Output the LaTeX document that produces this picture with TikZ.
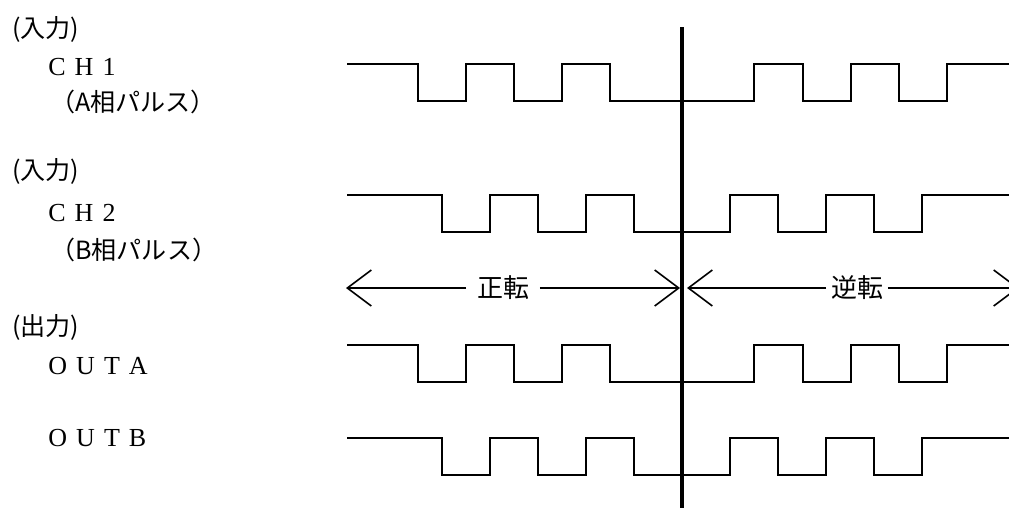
\documentclass[tikz,border=0pt]{standalone}
\usepackage{fontspec}
\setmainfont{Liberation Serif}
\newfontfamily\jp{Noto Sans CJK JP}
\usetikzlibrary{arrows.meta}
\begin{document}
\begin{tikzpicture}[x=0.75pt,y=-0.75pt,
  wave/.style={line width=1.5pt, line join=miter},
  axisline/.style={line width=2.4pt},
  dimline/.style={line width=1.2pt, -{Straight Barb[length=18pt,width=27pt,line width=1.2pt]}},
  jlab/.style={anchor=west, inner sep=0pt, font=\jp\fontsize{18.8pt}{22pt}\selectfont},
  slab/.style={anchor=west, inner sep=0pt, font=\fontsize{19.5pt}{22pt}\selectfont},
  dirlab/.style={inner ysep=0pt, font=\jp\fontsize{19.5pt}{22pt}\selectfont}]
\useasboundingbox (0,0) rectangle (1009,507);
\clip (0,0) rectangle (1009,507);

% left labels
\node[jlab] (in1) at (12,29) {(入力)};
\node[slab] (ch1) at (48,67) {C\kern.35em H\kern.35em 1};
\node[jlab] (pa) at (50,102) {（A相パルス）};
\node[jlab] (in2) at (12,171) {(入力)};
\node[slab] (ch2) at (48,213) {C\kern.35em H\kern.35em 2};
\node[jlab] (pb) at (50,250) {（B相パルス）};
\node[jlab] (out) at (12,327) {(出力)};
\node[slab] (outa) at (48,366) {O\kern.35em U\kern.35em T\kern.35em A};
\node[slab] (outb) at (48,438) {O\kern.35em U\kern.35em T\kern.35em B};

% waveforms
\draw[wave] (347,64) -| (418,101) -| (466,64) -| (514,101) -| (562,64) -| (610,101)
  -| (754,64) -| (803,101) -| (851,64) -| (899,101) -| (947,64) -- (1012,64);
\draw[wave] (347,195) -| (442,232) -| (490,195) -| (538,232) -| (586,195) -| (634,232)
  -| (730,195) -| (778,232) -| (826,195) -| (874,232) -| (922,195) -- (1012,195);
\draw[wave] (347,345) -| (418,382) -| (466,345) -| (514,382) -| (562,345) -| (610,382)
  -| (754,345) -| (803,382) -| (851,345) -| (899,382) -| (947,345) -- (1012,345);
\draw[wave] (347,438) -| (442,475) -| (490,438) -| (538,475) -| (586,438) -| (634,475)
  -| (730,438) -| (778,475) -| (826,438) -| (874,475) -| (922,438) -- (1012,438);

% vertical divider
\coordinate (vtop) at (682,27);
\coordinate (vbot) at (682,510);
\draw[axisline] (vtop) -- (vbot);

% direction arrows
\coordinate (fwdL) at (346,288);
\coordinate (fwdR) at (680,288);
\node[dirlab, inner xsep=7.9pt] (fwd) at (503,288) {正転};
\draw[dimline] (fwd.west) -- (fwdL);
\draw[dimline] (fwd.east) -- (fwdR);
\coordinate (revL) at (687,288);
\coordinate (revR) at (1019,288);
\node[dirlab, inner xsep=3.5pt] (rev) at (857,288) {逆転};
\draw[dimline] (rev.west) -- (revL);
\draw[dimline] (rev.east) -- (revR);
\end{tikzpicture}
\end{document}
